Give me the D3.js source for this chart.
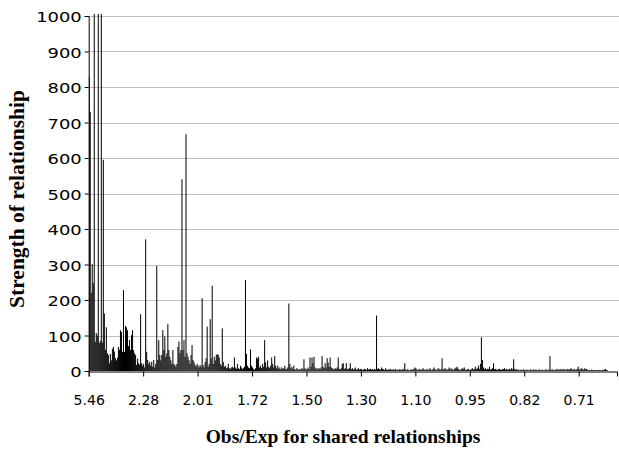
<!DOCTYPE html>
<html>
<head>
<meta charset="utf-8">
<script src="https://cdn.jsdelivr.net/npm/d3@7"></script>
<style>
  body { margin: 0; background: #fff; }
  svg { display: block; }
</style>
</head>
<body>
<div id="chart"></div>
<script>
// category tick labels (one label every 54 categories)
const tickLabels = ["5.46", "2.28", "2.01", "1.72", "1.50", "1.30", "1.10", "0.95", "0.82", "0.71"];
const tickEvery = 54;

// strength of relationship, one value per category (sorted by obs/exp, high to low)
const strength1 = [
    829, 730, 220, 301, 248, 1100, 82, 107, 100, 1100, 79, 85, 1100, 80, 595, 162, 60, 123, 50, 45,
    22, 48, 30, 62, 68, 55, 36, 30, 38, 68, 60, 115, 110, 54, 228, 54, 127, 123, 115, 70,
    87, 60, 101, 115, 59, 50, 45, 17, 35, 22, 18, 160, 22, 15, 20, 10, 371, 54, 31, 20,
    26, 15, 26, 12, 31, 10, 20, 296, 31, 87, 45, 30, 45, 115, 59, 97, 40, 50, 132, 59,
    40, 30, 20, 59, 20, 17, 12, 20, 68, 83, 50, 59, 540, 59, 87, 40, 667, 50, 40, 30
];
const strength2 = [
    20, 45, 73, 31, 25, 17, 12, 20, 15, 10, 17, 12, 205, 17, 10, 25, 36, 125, 12, 20,
    146, 36, 240, 20, 40, 30, 45, 48, 45, 38, 20, 15, 120, 25, 12, 15, 8, 10, 20, 8,
    6, 10, 12, 8, 38, 10, 6, 20, 8, 5, 15, 10, 6, 8, 12, 256, 48, 15, 10, 8,
    61, 15, 10, 6, 4, 8, 38, 35, 40, 10, 15, 8, 20, 12, 87, 25, 10, 30, 12, 8,
    15, 38, 20, 10, 42, 15, 8, 15, 6, 10, 5, 10, 6, 8, 15, 5, 6, 10, 190, 20
];
const strength3 = [
    8, 12, 6, 15, 5, 4, 8, 5, 3, 6, 4, 8, 5, 33, 8, 4, 6, 10, 5, 38,
    12, 38, 22, 40, 10, 6, 8, 5, 8, 6, 10, 42, 12, 8, 22, 10, 36, 24, 12, 38,
    10, 8, 6, 5, 8, 6, 10, 38, 6, 5, 8, 20, 22, 6, 8, 22, 5, 6, 8, 22,
    5, 8, 4, 6, 10, 3, 5, 8, 4, 6, 5, 3, 4, 6, 5, 3, 8, 4, 5, 6,
    4, 5, 3, 6, 4, 156, 6, 8, 5, 4, 10, 6, 5, 3, 8, 4, 3, 5, 4, 6
];
const strength4 = [
    3, 4, 5, 3, 6, 2, 4, 3, 5, 4, 3, 6, 5, 22, 4, 3, 5, 3, 2, 4,
    5, 3, 6, 10, 8, 4, 3, 5, 6, 3, 4, 8, 5, 3, 4, 6, 3, 5, 8, 4,
    3, 6, 10, 5, 4, 3, 8, 6, 4, 5, 36, 6, 4, 8, 5, 3, 6, 10, 4, 8,
    5, 3, 6, 8, 10, 12, 6, 4, 3, 5, 8, 6, 10, 4, 3, 5, 6, 3, 4, 5,
    8, 4, 6, 12, 5, 8, 15, 6, 20, 95, 31, 10, 5, 8, 4, 6, 5, 12, 4, 5
];
const strength5 = [
    8, 22, 5, 6, 4, 3, 5, 6, 4, 3, 6, 5, 8, 4, 6, 3, 5, 6, 4, 8,
    5, 33, 6, 4, 5, 3, 4, 2, 3, 4, 2, 5, 3, 2, 4, 3, 2, 3, 5, 2,
    3, 5, 2, 4, 3, 2, 5, 3, 2, 4, 3, 2, 3, 5, 2, 4, 3, 42, 4, 3,
    5, 2, 3, 4, 6, 3, 5, 4, 6, 3, 5, 6, 4, 3, 6, 5, 4, 6, 8, 3,
    5, 6, 3, 4, 6, 12, 5, 4, 8, 6, 3, 8, 5, 6, 4, 2, 3, 2, 4, 2,
    3, 2, 2, 3, 2, 2, 3, 2, 2, 3, 2, 4, 6, 3, 2, 0, 0, 0, 0, 0,
    0, 0, 0, 0
];
const strength = [...strength1, ...strength2, ...strength3, ...strength4, ...strength5];

const yTicks = [0, 100, 200, 300, 400, 500, 600, 700, 800, 900, 1000];

function createSpikeChart(values, selector = "#chart") {
    const width = 619;
    const height = 449;
    const margin = { top: 16, left: 88.7, bottom: 371, right: 617 };

    const svg = d3.select(selector)
        .html("")
        .append("svg")
        .attr("width", width)
        .attr("height", height);

    const x = d3.scaleBand()
        .domain(d3.range(values.length))
        .range([margin.left, margin.right])
        .padding(0);

    // same range as the bands, used for tick marks at category edges
    const xEdge = d3.scaleLinear()
        .domain([0, values.length])
        .range([margin.left, margin.right]);

    const y = d3.scaleLinear()
        .domain([0, 1000])
        .range([margin.bottom, margin.top]);

    // gridlines
    svg.append("g")
        .selectAll("line")
        .data(yTicks.slice(1))
        .join("line")
        .attr("x1", margin.left)
        .attr("x2", width)
        .attr("y1", d => Math.round(y(d)) + 0.5)
        .attr("y2", d => Math.round(y(d)) + 0.5)
        .attr("stroke", "#c0c0c0")
        .attr("stroke-width", 1);

    svg.append("clipPath")
        .attr("id", "plot-clip")
        .append("rect")
        .attr("x", margin.left)
        .attr("y", margin.top - 2)
        .attr("width", width - margin.left)
        .attr("height", margin.bottom - margin.top + 2);

    svg.append("g")
        .attr("clip-path", "url(#plot-clip)")
        .selectAll(".bar")
        .data(values)
        .join("rect")
        .attr("class", "bar")
        .attr("x", (d, i) => x(i))
        .attr("y", d => y(d))
        .attr("width", x.bandwidth())
        .attr("height", d => y(0) - y(d))
        .attr("fill", "#000");

    const tickIdx = tickLabels.map((t, k) => k * tickEvery);

    const xAxis = svg.append("g")
        .attr("transform", `translate(0,${margin.bottom + 0.5})`)
        .call(d3.axisBottom(xEdge)
            .tickValues(tickIdx)
            .tickFormat((d, k) => tickLabels[k])
            .tickSizeOuter(0)
            .tickSize(5)
            .tickPadding(19));

    xAxis.selectAll("text")
        .style("font-family", "'DejaVu Sans', sans-serif")
        .style("font-size", "14px")
        .attr("fill", "#000");

    const yAxis = svg.append("g")
        .attr("transform", `translate(${margin.left},0)`)
        .call(d3.axisLeft(y)
            .tickValues(yTicks)
            .tickFormat(d3.format("d"))
            .tickSizeOuter(0)
            .tickSize(4)
            .tickPadding(4));

    // the y labels are drawn wider than the x labels in the original
    const stretch = 1.28;
    yAxis.selectAll("text")
        .style("font-family", "'DejaVu Sans', sans-serif")
        .style("font-size", "14px")
        .attr("x", -7 / stretch)
        .attr("dy", "0.42em")
        .attr("transform", `scale(${stretch},1)`)
        .attr("fill", "#000");

    svg.selectAll(".domain, .tick line").attr("stroke", "#000");

    svg.append("text")
        .attr("x", 343)
        .attr("y", 443)
        .attr("text-anchor", "middle")
        .style("font-family", "'Liberation Serif', 'Times New Roman', serif")
        .style("font-weight", "bold")
        .style("font-size", "19.5px")
        .text("Obs/Exp for shared relationships");

    svg.append("text")
        .attr("transform", "translate(23.5,199) rotate(-90)")
        .attr("text-anchor", "middle")
        .style("font-family", "'Liberation Serif', 'Times New Roman', serif")
        .style("font-weight", "bold")
        .style("font-size", "21.5px")
        .text("Strength of relationship");
}

window.onload = () => {
    createSpikeChart(strength);
};
</script>
</body>
</html>
